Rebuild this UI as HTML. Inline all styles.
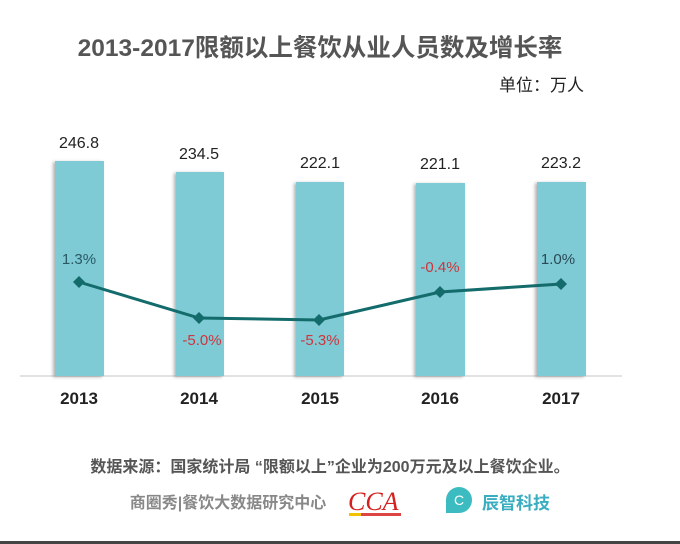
<!DOCTYPE html>
<html><head><meta charset="utf-8"><style>
body{margin:0;width:680px;height:544px;background:#fff;overflow:hidden;font-family:"Liberation Sans","Noto Sans CJK SC",sans-serif}
</style></head><body>
<svg width="680" height="544" xmlns="http://www.w3.org/2000/svg" style="position:absolute;left:0;top:0">
<defs><filter id="sh" x="-20%" y="-5%" width="140%" height="110%"><feDropShadow dx="-2" dy="1" stdDeviation="1.5" flood-color="#000" flood-opacity="0.3"/></filter></defs>
<text x="320" y="56" text-anchor="middle" font-size="24.5" font-weight="bold" fill="#555" font-family="Liberation Sans,Noto Sans CJK SC,sans-serif">2013-2017限额以上餐饮从业人员数及增长率</text>
<text x="584" y="91" text-anchor="end" font-size="17" fill="#222" font-family="Liberation Sans,Noto Sans CJK SC,sans-serif">单位：万人</text>
<line x1="20" y1="376" x2="622" y2="376" stroke="#d9d9d9" stroke-width="1.5"/>
<g fill="#7ecad5" filter="url(#sh)">
<rect x="55" y="161" width="49" height="215"/>
<rect x="176" y="172" width="48" height="204"/>
<rect x="296" y="182" width="48" height="194"/>
<rect x="416" y="183" width="49" height="193"/>
<rect x="537" y="182" width="49" height="194"/>
</g>
<g font-size="16" fill="#222" text-anchor="middle">
<text x="79" y="148">246.8</text><text x="199" y="159">234.5</text><text x="320" y="168">222.1</text><text x="440" y="169">221.1</text><text x="561" y="168">223.2</text>
</g>
<polyline points="79,282 199,318 319,320 440,292 561,284" fill="none" stroke="#136b6b" stroke-width="3"/>
<g fill="#136b6b">
<path d="M79,276 l6,6 -6,6 -6,-6z"/><path d="M199,312 l6,6 -6,6 -6,-6z"/><path d="M319,314 l6,6 -6,6 -6,-6z"/><path d="M440,286 l6,6 -6,6 -6,-6z"/><path d="M561,278 l6,6 -6,6 -6,-6z"/>
</g>
<g font-size="15" text-anchor="middle">
<text x="79" y="264" fill="#2a5a66">1.3%</text>
<text x="202" y="345" fill="#d0343c">-5.0%</text>
<text x="320" y="345" fill="#d0343c">-5.3%</text>
<text x="440" y="272" fill="#d0343c">-0.4%</text>
<text x="558" y="264" fill="#2a4a55">1.0%</text>
</g>
<g font-size="17" font-weight="bold" fill="#222" text-anchor="middle">
<text x="79" y="404">2013</text><text x="199" y="404">2014</text><text x="320" y="404">2015</text><text x="440" y="404">2016</text><text x="561" y="404">2017</text>
</g>
<text x="330" y="472" text-anchor="middle" font-size="16" font-weight="bold" fill="#555" font-family="Liberation Sans,Noto Sans CJK SC,sans-serif">数据来源：国家统计局 “限额以上”企业为200万元及以上餐饮企业。</text>
<text x="228" y="508" text-anchor="middle" font-size="16" font-weight="bold" fill="#888" font-family="Liberation Sans,Noto Sans CJK SC,sans-serif">商圈秀|餐饮大数据研究中心</text>
<text x="348" y="510" font-size="26" font-style="italic" fill="#d42020" font-family="Liberation Serif,serif">CCA</text>
<rect x="349" y="513" width="12" height="3" fill="#f2c200"/><rect x="361" y="513" width="40" height="3" fill="#d44"/>
<path d="M459,487 a13,13 0 1 1 0,26 h-13 v-13 a13,13 0 0 1 13,-13z" fill="#3cbcc0"/>
<text x="459" y="505" text-anchor="middle" font-size="14" fill="#fff">C</text>
<text x="482" y="509" font-size="17" font-weight="bold" fill="#3aaec0" font-family="Liberation Sans,Noto Sans CJK SC,sans-serif">辰智科技</text>
<rect x="0" y="541" width="680" height="3" fill="#444"/>
</svg>
</body></html>
